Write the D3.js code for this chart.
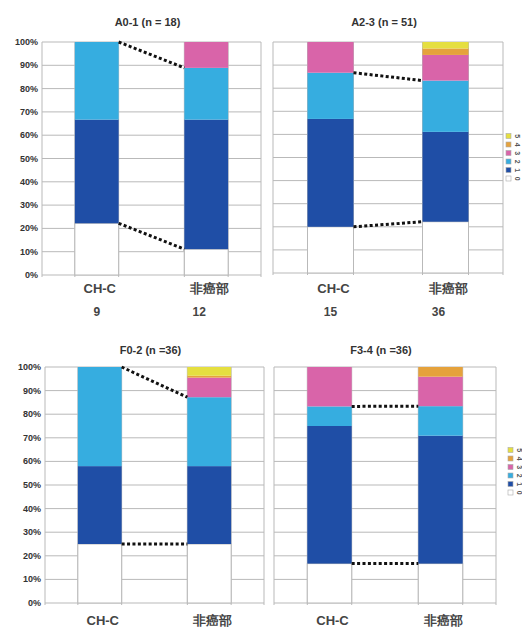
<!DOCTYPE html>
<html>
<head>
<meta charset="utf-8">
<script src="https://cdn.jsdelivr.net/npm/d3@7"></script>
<style>
  body { margin: 0; background: #fff; }
  text { font-family: "Liberation Sans", Arial, sans-serif; }
</style>
</head>
<body>
<div id="chart"></div>
<script>
const width = 522;
const height = 627;

// data (percent of each grade, stacked bottom -> top)
const categories = ["CH-C", "非癌部"];
const grades = ["0", "1", "2", "3", "4", "5"];
const gradeColors = ["#ffffff", "#1f4ea6", "#36ade0", "#d964a9", "#e5a23c", "#e5df40"];
const titles = ["A0-1 (n = 18)", "A2-3 (n = 51)", "F0-2 (n =36)", "F3-4 (n =36)"];
const a01 = [[22.2, 44.5, 33.3, 0, 0, 0], [11.1, 55.6, 22.2, 11.1, 0, 0]];
const a23 = [[20, 46.7, 20, 13.3, 0, 0], [22.2, 38.9, 22.2, 11.1, 2.8, 2.8]];
const f02 = [[25, 33, 42, 0, 0, 0], [25, 33, 29.2, 8.3, 0.8, 3.7]];
const f34 = [[16.7, 58.3, 8.3, 16.7, 0, 0], [16.7, 54.2, 12.5, 12.5, 4.1, 0]];
const counts = [["9", "12"], ["15", "36"], null, null];
const yTicks = [0, 10, 20, 30, 40, 50, 60, 70, 80, 90, 100];

// layout of the four panels
const panels = [
  { values: a01, x0: 42, x1: 261, y0: 42, y1: 275, axis: true, titleY: 26, labelY: 293, countY: 316 },
  { values: a23, x0: 273, x1: 503, y0: 42, y1: 273, axis: false, titleY: 26, labelY: 293, countY: 316 },
  { values: f02, x0: 45, x1: 264, y0: 367, y1: 603, axis: true, titleY: 354, labelY: 625 },
  { values: f34, x0: 274, x1: 496, y0: 367, y1: 603, axis: false, titleY: 354, labelY: 625 }
];

const svg = d3.select("#chart").append("svg")
  .attr("width", width)
  .attr("height", height);

panels.forEach((p, i) => {
  const g = svg.append("g");

  const x = d3.scaleBand()
    .domain(categories)
    .range([p.x0, p.x1])
    .paddingInner(0.6)
    .paddingOuter(0.3);

  const y = d3.scaleLinear()
    .domain([0, 100])
    .range([p.y1, p.y0]);

  // horizontal grid
  g.selectAll(".hgrid")
    .data(yTicks)
    .enter().append("line")
    .attr("x1", p.x0).attr("x2", p.x1)
    .attr("y1", d => y(d)).attr("y2", d => y(d))
    .attr("stroke", "#b9b9b9").attr("stroke-width", 1);

  // vertical grid at panel sides and bar edges
  const vlines = [p.x0, p.x1];
  categories.forEach(c => { vlines.push(x(c), x(c) + x.bandwidth()); });
  g.selectAll(".vgrid")
    .data(vlines)
    .enter().append("line")
    .attr("x1", d => d).attr("x2", d => d)
    .attr("y1", p.y0).attr("y2", p.y1 + 2)
    .attr("stroke", "#b9b9b9").attr("stroke-width", 1);

  // stacked bars
  categories.forEach((c, ci) => {
    let cum = 0;
    const segs = p.values[ci].map((v, k) => {
      const s = { grade: k, lo: cum, hi: cum + v };
      cum += v;
      return s;
    }).filter(s => s.hi > s.lo);

    g.selectAll(".seg" + ci)
      .data(segs)
      .enter().append("rect")
      .attr("x", x(c))
      .attr("width", x.bandwidth())
      .attr("y", d => y(d.hi))
      .attr("height", d => y(d.lo) - y(d.hi))
      .attr("fill", d => gradeColors[d.grade])
      .attr("stroke", d => d.grade === 0 ? "#b9b9b9" : "none")
      .attr("stroke-width", 1);
  });

  // dotted connectors (top of grade 0, top of grade 2)
  const cumAt = (vals, k) => d3.sum(vals.slice(0, k + 1));
  [0, 2].forEach(k => {
    g.append("line")
      .attr("x1", x(categories[0]) + x.bandwidth())
      .attr("x2", x(categories[1]))
      .attr("y1", y(cumAt(p.values[0], k)))
      .attr("y2", y(cumAt(p.values[1], k)))
      .attr("stroke", "#111")
      .attr("stroke-width", 3)
      .attr("stroke-dasharray", "3 2.4");
  });

  // y axis labels
  if (p.axis) {
    g.selectAll(".ylab")
      .data(yTicks)
      .enter().append("text")
      .attr("x", p.x0 - 4)
      .attr("y", d => y(d) + 3)
      .attr("text-anchor", "end")
      .attr("font-size", 9)
      .attr("font-weight", "bold")
      .attr("fill", "#333")
      .text(d => d + "%");
  }

  // title
  g.append("text")
    .attr("x", (p.x0 + p.x1) / 2 - 4)
    .attr("y", p.titleY)
    .attr("text-anchor", "middle")
    .attr("font-size", 11)
    .attr("font-weight", "bold")
    .attr("fill", "#333")
    .text(titles[i]);

  // category labels
  g.selectAll(".xlab")
    .data(categories)
    .enter().append("text")
    .attr("x", d => x(d) + x.bandwidth() / 2 + 3)
    .attr("y", p.labelY)
    .attr("text-anchor", "middle")
    .attr("font-size", 13)
    .attr("font-weight", "bold")
    .attr("fill", "#444")
    .text(d => d);

  if (counts[i]) {
    g.selectAll(".cnt")
      .data(counts[i])
      .enter().append("text")
      .attr("x", (d, k) => x(categories[k]) + x.bandwidth() / 2 - (k ? 7 : 0))
      .attr("y", p.countY)
      .attr("text-anchor", "middle")
      .attr("font-size", 12)
      .attr("font-weight", "bold")
      .attr("fill", "#444")
      .text(d => d);
  }
});

// small legends at the right edge (grade 5 on top)
const legendSpots = [{ x: 506, y: 132 }, { x: 508, y: 446 }];
legendSpots.forEach(pos => {
  const lg = svg.append("g").attr("transform", `translate(${pos.x},${pos.y})`);
  const items = grades.slice().reverse();
  const row = d3.scaleBand().domain(items).range([0, 51]);
  items.forEach(gr => {
    lg.append("rect")
      .attr("x", 0)
      .attr("y", row(gr) + 1.5)
      .attr("width", 5)
      .attr("height", 5)
      .attr("fill", gradeColors[+gr])
      .attr("stroke", "#aaa")
      .attr("stroke-width", 0.6);
    lg.append("text")
      .attr("transform", `translate(9,${row(gr) + row.bandwidth() / 2}) rotate(90)`)
      .attr("text-anchor", "middle")
      .attr("font-size", 7)
      .attr("font-weight", "bold")
      .attr("fill", "#555")
      .text(gr);
  });
});
</script>
</body>
</html>
